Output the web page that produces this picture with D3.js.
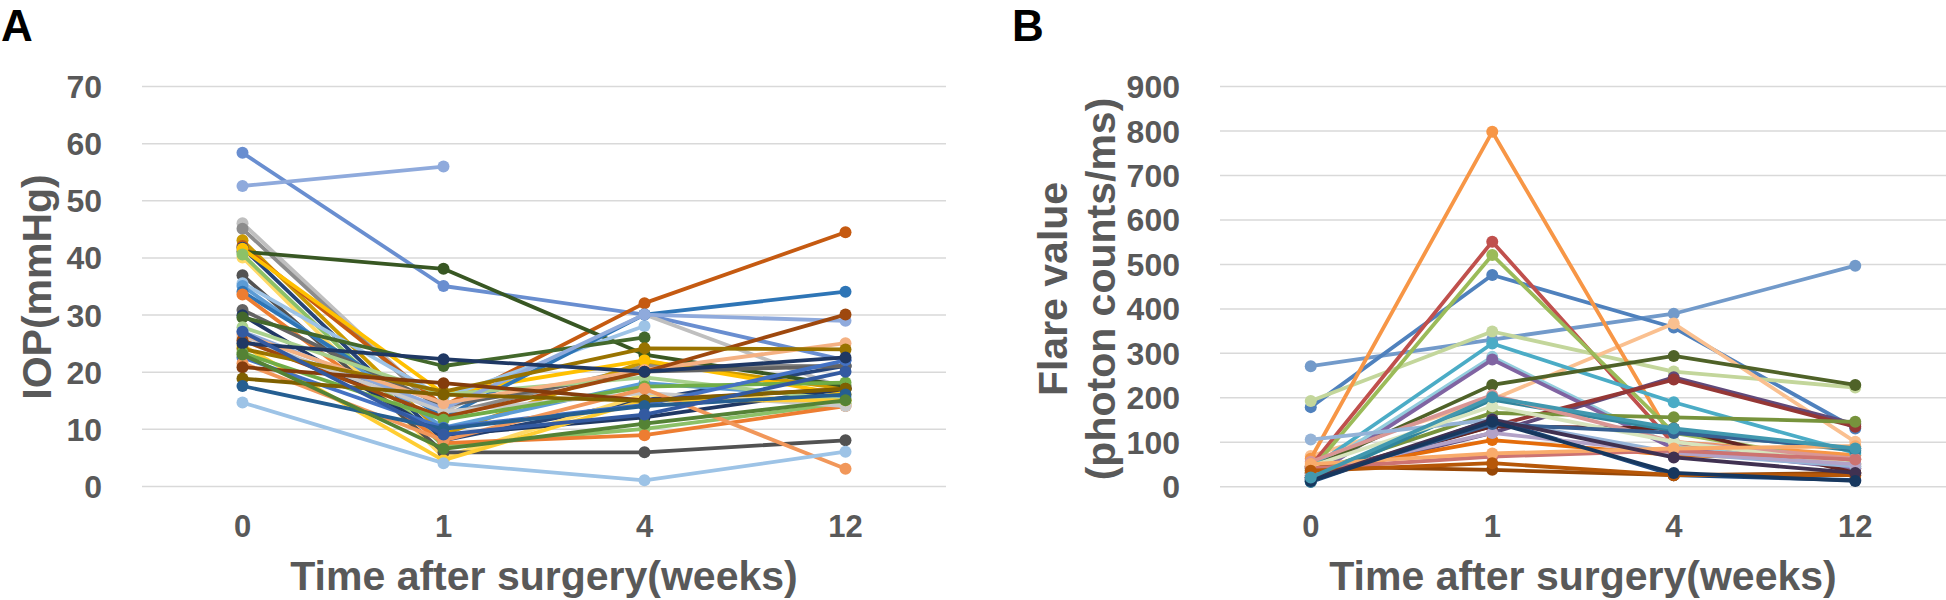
<!DOCTYPE html>
<html><head><meta charset="utf-8">
<script src="https://cdn.jsdelivr.net/npm/d3@7"></script>
<style>
body{margin:0;background:#fff}
svg{display:block;background:#fff}
text{font-family:"Liberation Sans",Arial,sans-serif;font-weight:bold}
</style>
</head><body>
<svg id="chart" width="1946" height="600"></svg>
<script>
// ---------- DATA ----------
const weeks = ["0", "1", "4", "12"];
const iopTicks = [0, 10, 20, 30, 40, 50, 60, 70];
const flareTicks = [0, 100, 200, 300, 400, 500, 600, 700, 800, 900];

// Panel A: IOP (mmHg) per eye at weeks 0, 1, 4, 12
const iopColors = [
  "#698ED0","#8FAADC","#BFBFBF","#8C8C8C","#CC9A00","#C55A11","#264478","#385723",
  "#FFC000","#FFD966","#8CC168","#525252","#9DC3E6","#5B9BD5","#2E75B6","#ED7D31",
  "#636363","#203864","#43682B","#A9D18E","#8FAADC","#C9C9C9","#F4B183","#9E480E",
  "#FFCD33","#997300","#70AD47","#4472C4","#1F3864","#F1975A","#843C0C","#7F6000",
  "#255E91","#9DC3E6","#548235","#335AA1"
];
const iopValues = [
  [58.3, 35.0, 30.0, 22.0],
  [52.5, 55.9, null, null],
  [46.0, 13.0, 30.0, 17.0],
  [45.0, 12.5, 21.0, 21.0],
  [43.0, 9.0, 21.8, 17.0],
  [42.0, 14.0, 32.0, 44.4],
  [41.7, 8.0, 15.0, 21.0],
  [41.0, 38.0, 23.0, 17.5],
  [41.5, 16.2, 22.0, 16.0],
  [40.0, 5.0, 16.0, 15.0],
  [40.5, 7.0, 10.0, 14.5],
  [36.9, 5.9, 5.9, 8.0],
  [35.5, 15.5, 28.0, null],
  [35.0, 10.2, 18.0, 15.5],
  [34.0, 12.0, 30.0, 34.0],
  [33.5, 7.5, 8.9, 14.0],
  [30.8, 14.0, 20.0, 21.0],
  [29.9, 8.9, 12.0, 17.0],
  [29.5, 21.0, 26.0, null],
  [27.8, 16.0, 19.0, 15.0],
  [27.0, 13.5, 30.0, 28.9],
  [26.0, 13.0, 16.3, 14.0],
  [26.5, 14.5, 20.3, 25.0],
  [25.5, 12.0, 20.0, 30.0],
  [24.6, 4.5, 15.0, 15.0],
  [24.0, 16.5, 24.1, 23.9],
  [23.3, 11.6, 17.4, 18.1],
  [22.5, 10.2, 14.2, 22.0],
  [25.0, 22.2, 20.0, 22.5],
  [21.5, 8.0, 17.0, 3.0],
  [20.8, 18.0, 15.0, 17.0],
  [18.8, 16.0, 14.9, 17.0],
  [17.5, 10.0, 14.0, 16.0],
  [14.6, 4.0, 1.0, 6.0],
  [23.0, 6.5, 10.9, 15.0],
  [27.0, 9.0, 12.5, 20.0]
];

// Panel B: flare value (photon counts/ms) per eye at weeks 0, 1, 4, 12
const flareColors = [
  "#729ACA","#4F81BD","#C3D69B","#FAC090","#F79646","#C0504D","#9BBB59","#4BACC6",
  "#93CDDD","#8064A2","#4F6228","#604A7B","#953735","#77933C","#632523","#1F497D",
  "#984807","#E46C0A","#31859C","#D99694","#95B3D7","#D7E4BD","#B3A2C7","#376092",
  "#CD7371","#F9AB6B","#B65708","#403151","#17375E","#4198AF"
];
const flareValues = [
  [270, 330, 388, 496],
  [178, 475, 357, 130],
  [192, 348, 258, 222],
  [68, 195, 366, 100],
  [62, 797, 100, 70],
  [45, 550, 95, 40],
  [35, 520, 120, 50],
  [40, 321, 189, 75],
  [30, 291, 90, 45],
  [20, 285, 85, 40],
  [42, 228, 293, 228],
  [20, 120, 245, 140],
  [25, 135, 240, 134],
  [30, 165, 155, 145],
  [20, 135, 130, 30],
  [10, 150, 25, 14],
  [45, 37, 25, 30],
  [30, 104, 70, 60],
  [10, 195, 125, 80],
  [55, 205, 100, 62],
  [105, 150, 75, 45],
  [45, 180, 100, 50],
  [30, 120, 75, 50],
  [15, 140, 120, 85],
  [40, 67, 80, 60],
  [50, 74, 85, 90],
  [35, 52, 25, 25],
  [15, 150, 65, 30],
  [12, 145, 30, 12],
  [20, 200, 130, 85]
];

// ---------- DRAW ----------
const svg = d3.select("#chart");
const TEXT = "#595959";

function panel(opts) {
  const g = svg.append("g");
  const x = d3.scaleBand().domain(weeks).range(opts.xr);
  const xc = d => x(d) + x.bandwidth() / 2;
  const y = d3.scaleLinear().domain(opts.yd).range(opts.yr);

  // gridlines + y labels
  const ya = g.append("g").attr("transform", `translate(${opts.xr[0]},0)`)
    .call(d3.axisLeft(y).tickValues(opts.ticks).tickSize(-(opts.xr[1] - opts.xr[0])).tickPadding(40));
  ya.select(".domain").remove();
  ya.selectAll(".tick line").attr("stroke", "#D9D9D9").attr("stroke-width", 1.5);
  ya.selectAll(".tick text").attr("fill", TEXT).style("font-size", "32px").attr("dy", "0.36em");

  // x labels
  const xa = g.append("g").attr("transform", `translate(0,${opts.yr[0]})`)
    .call(d3.axisBottom(x).tickSize(0).tickPadding(29));
  xa.select(".domain").remove();
  xa.selectAll(".tick text").attr("fill", TEXT).style("font-size", "31px");

  // series
  const line = d3.line().defined(v => v != null).x((v, i) => xc(weeks[i])).y(v => y(v));
  opts.values.forEach((vals, si) => {
    const col = opts.colors[si % opts.colors.length];
    g.append("path").attr("d", line(vals)).attr("fill", "none")
      .attr("stroke", col).attr("stroke-width", 3.8).attr("stroke-linejoin", "round");
    vals.forEach((v, i) => {
      if (v == null) return;
      g.append("circle").attr("cx", xc(weeks[i])).attr("cy", y(v)).attr("r", 6).attr("fill", col);
    });
  });

  // x title
  g.append("text").attr("x", (opts.xr[0] + opts.xr[1]) / 2).attr("y", 590)
    .attr("text-anchor", "middle").attr("fill", TEXT).style("font-size", "41px")
    .text("Time after surgery(weeks)");
  return {x, y};
}

panel({xr: [142, 946], yd: [0, 70], yr: [486, 86], ticks: iopTicks, values: iopValues, colors: iopColors});
panel({xr: [1220, 1946], yd: [0, 900], yr: [486.3, 86], ticks: flareTicks, values: flareValues, colors: flareColors});

// y titles
svg.append("text").attr("transform", "translate(51,287) rotate(-90)")
  .attr("text-anchor", "middle").attr("fill", TEXT).style("font-size", "41px").text("IOP(mmHg)");
svg.append("text").attr("transform", "translate(1067,289) rotate(-90)")
  .attr("text-anchor", "middle").attr("fill", TEXT).style("font-size", "41px").text("Flare value");
svg.append("text").attr("transform", "translate(1115,289) rotate(-90)")
  .attr("text-anchor", "middle").attr("fill", TEXT).style("font-size", "41px").text("(photon counts/ms)");

// panel letters
svg.append("text").attr("x", 1).attr("y", 40.5).attr("fill", "#000").style("font-size", "44px").text("A");
svg.append("text").attr("x", 1012).attr("y", 40.5).attr("fill", "#000").style("font-size", "44px").text("B");
</script>
</body></html>
